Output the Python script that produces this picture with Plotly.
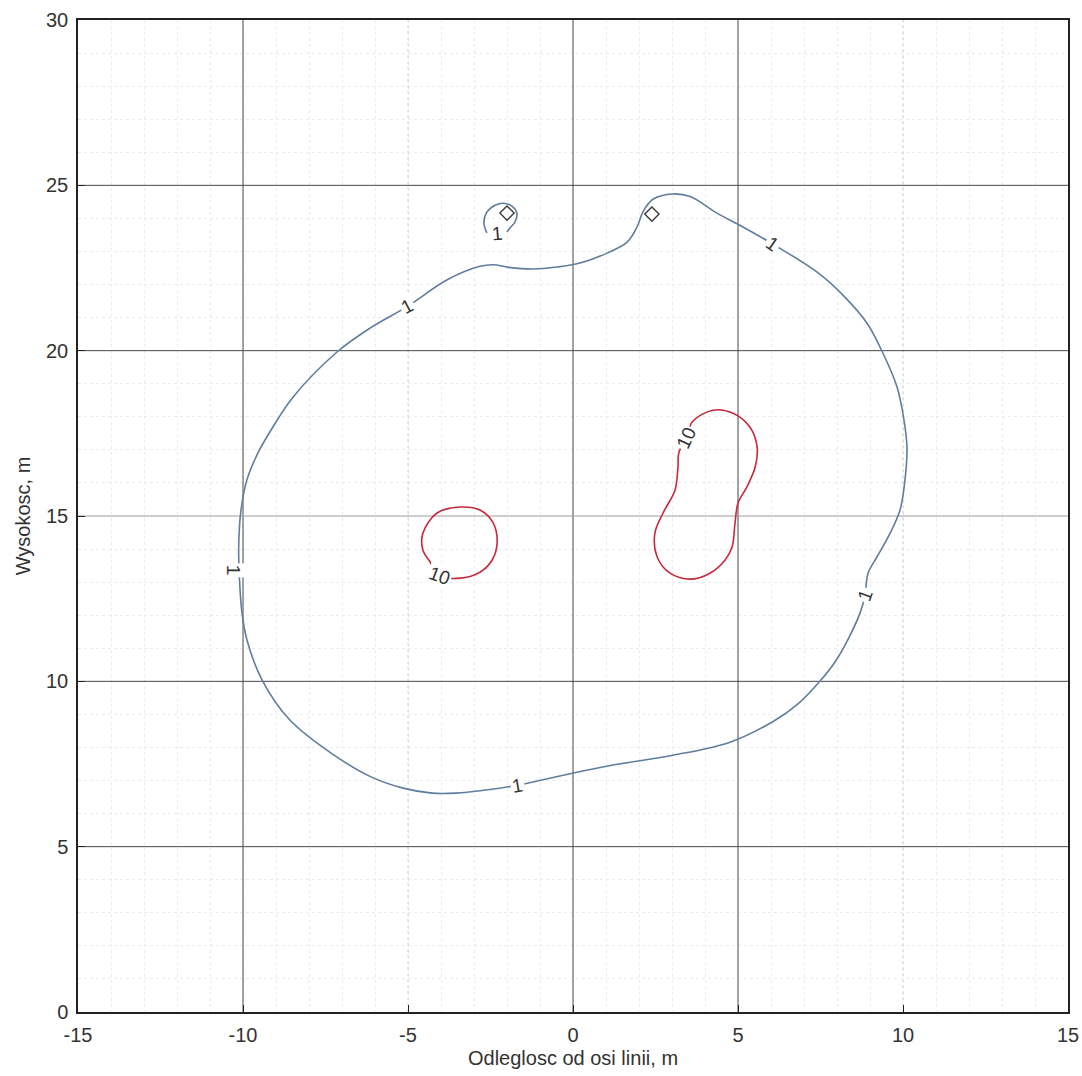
import plotly.graph_objects as go

# Contour levels drawn on the chart
levels = [1, 10]

# Level-1 contour (outer closed curve), data coordinates in metres
c1_x = [-10.12, -10.13, -10.07, -9.88, -9.55, -9.15, -8.48, -7.15, -6.15, -5.03,
        -3.80, -2.82, -2.42, -1.95, -1.21, -0.48, 0.21, 1.03, 1.64, 1.94,
        2.12, 2.42, 3.03, 3.55, 4.36, 5.15, 6.06, 7.39, 8.18, 8.91,
        9.39, 9.82, 10.03, 10.12, 10.06, 9.91, 9.61, 9.21, 8.94, 8.85,
        8.70, 8.35, 7.95, 7.48, 6.80, 6.09, 4.76, 3.06, 1.21, -0.12, -1.12,
        -1.67, -2.58, -3.55, -4.27, -5.15, -6.12, -7.33, -8.58, -9.42, -9.88,
        -10.03, -10.12]
c1_y = [13.40, 14.10, 15.10, 16.10, 16.90, 17.60, 18.60, 19.96, 20.68, 21.33,
        22.15, 22.55, 22.60, 22.52, 22.47, 22.53, 22.65, 22.95, 23.28, 23.74,
        24.20, 24.58, 24.74, 24.66, 24.16, 23.74, 23.22, 22.38, 21.68, 20.83,
        19.93, 18.90, 17.90, 17.08, 16.09, 15.18, 14.48, 13.76, 13.27, 12.60,
        12.07, 11.30, 10.60, 10.00, 9.30, 8.80, 8.16, 7.77, 7.47, 7.20, 6.98,
        6.86, 6.72, 6.62, 6.62, 6.77, 7.11, 7.83, 8.83, 10.04, 11.25,
        12.07, 13.40]

# Small level-1 island near the upper conductor
c1s_x = [-2.00, -1.91, -1.76, -1.70, -1.85, -2.12, -2.36, -2.61, -2.70, -2.61]
c1s_y = [23.59, 23.71, 23.89, 24.16, 24.37, 24.46, 24.40, 24.19, 23.86, 23.56]

# Level-10 contours
c10a_x = [-3.42, -2.82, -2.42, -2.30, -2.45, -2.82, -3.42, -4.06, -4.33, -4.55, -4.55, -4.12, -3.42]
c10a_y = [15.27, 15.18, 14.79, 14.18, 13.67, 13.30, 13.12, 13.20, 13.61, 13.97, 14.48, 15.09, 15.27]

c10b_x = [3.45, 3.61, 4.24, 4.85, 5.36, 5.58, 5.52, 5.27, 5.00, 4.91, 4.82, 4.61, 4.15,
          3.55, 2.94, 2.55, 2.48, 2.73, 3.09, 3.18, 3.21, 3.45]
c10b_y = [17.36, 17.84, 18.20, 18.11, 17.69, 17.08, 16.48, 15.88, 15.39, 14.79, 14.06, 13.67, 13.27,
          13.09, 13.27, 13.76, 14.48, 15.09, 15.78, 16.48, 16.93, 17.36]

# Conductor positions
cond_x = [-2.00, 2.39]
cond_y = [24.16, 24.13]

# Contour labels: position, level index, rotation
lab_x = [-5.03, 6.06, 8.85, -10.30, -1.67, -2.30, -4.06, 3.45]
lab_y = [21.33, 23.22, 12.60, 13.37, 6.86, 23.53, 13.20, 17.36]
lab_lvl = [0, 0, 0, 0, 0, 0, 1, 1]
lab_ang = [-28, 35, -70, 90, -10, -5, 20, -65]

# Axis ticks and gridlines
x_ticks = [-15, -10, -5, 0, 5, 10, 15]
y_ticks = [0, 5, 10, 15, 20, 25, 30]
grid_x_solid = [-10, 0, 5]
grid_x_faint = [-5, 10]
grid_y_solid = [5, 10, 20, 25]
grid_y_faint = [15]

BLUE = "#5f7e9e"
RED = "#c62a3a"
FONT = "Liberation Sans, Arial, sans-serif"

fig = go.Figure()

for gx in grid_x_solid:
    fig.add_shape(type="line", xref="x", yref="y", x0=gx, x1=gx, y0=0, y1=30,
                  line=dict(color="#4a4a4a", width=1), layer="between")
for gx in grid_x_faint:
    fig.add_shape(type="line", xref="x", yref="y", x0=gx, x1=gx, y0=0, y1=30,
                  line=dict(color="#d2d2d2", width=1, dash="dot"), layer="between")
for gy in grid_y_solid:
    fig.add_shape(type="line", xref="x", yref="y", x0=-15, x1=15, y0=gy, y1=gy,
                  line=dict(color="#4a4a4a", width=1), layer="between")
for gy in grid_y_faint:
    fig.add_shape(type="line", xref="x", yref="y", x0=-15, x1=15, y0=gy, y1=gy,
                  line=dict(color="#a0a0a0", width=1), layer="between")

fig.add_trace(go.Scatter(x=c1_x, y=c1_y, mode="lines",
                         line=dict(color=BLUE, width=1.6, shape="spline", smoothing=1.0),
                         hoverinfo="skip", showlegend=False))
fig.add_trace(go.Scatter(x=c1s_x, y=c1s_y, mode="lines",
                         line=dict(color=BLUE, width=1.6, shape="spline", smoothing=1.0),
                         hoverinfo="skip", showlegend=False))
for cx, cy in [(c10a_x, c10a_y), (c10b_x, c10b_y)]:
    fig.add_trace(go.Scatter(x=cx, y=cy, mode="lines",
                             line=dict(color=RED, width=1.6, shape="spline", smoothing=1.0),
                             hoverinfo="skip", showlegend=False))

fig.add_trace(go.Scatter(x=cond_x, y=cond_y, mode="markers",
                         marker=dict(symbol="diamond-open", size=11, color="#3a3a3a",
                                     line=dict(width=1.4, color="#3a3a3a")),
                         hoverinfo="skip", showlegend=False))

for lx, ly, li, la in zip(lab_x, lab_y, lab_lvl, lab_ang):
    fig.add_annotation(x=lx, y=ly, xref="x", yref="y", text=str(levels[li]),
                       showarrow=False, textangle=la, bgcolor="white", borderpad=1,
                       font=dict(family=FONT, size=19, color="#333333"))

axis_common = dict(
    showgrid=False, zeroline=False, showline=True, mirror=True, automargin=False,
    linecolor="#222222", linewidth=1.5, ticks="inside", ticklen=7,
    tickcolor="#222222", tickfont=dict(family=FONT, size=20, color="#333333"),
    minor=dict(dtick=1, showgrid=True, gridcolor="#ececec", griddash="dot", gridwidth=1),
)

fig.update_layout(
    width=1082, height=1076,
    margin=dict(l=78, r=14, t=20, b=64),
    paper_bgcolor="white", plot_bgcolor="white",
    xaxis=dict(range=[-15, 15], tickvals=x_ticks, ticktext=[str(v) for v in x_ticks],
               ticklabelstandoff=4,
               title=dict(text="Odleglosc od osi linii, m", standoff=6,
                          font=dict(family=FONT, size=20, color="#333333")),
               **axis_common),
    yaxis=dict(range=[0, 30], tickvals=y_ticks, ticktext=[str(v) for v in y_ticks],
               ticklabelstandoff=4,
               title=dict(text="Wysokosc, m", standoff=10,
                          font=dict(family=FONT, size=20, color="#333333")),
               **axis_common),
)

fig.write_html("out.html")
